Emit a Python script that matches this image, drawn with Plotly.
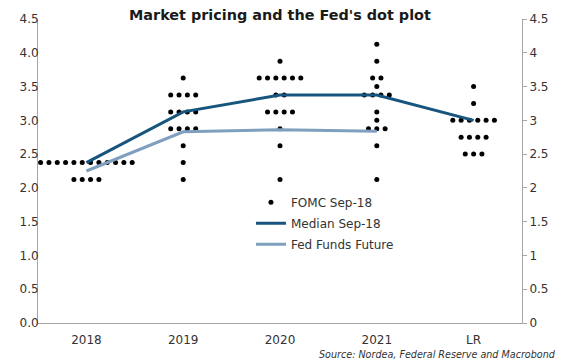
import plotly.graph_objects as go

categories = ["2018", "2019", "2020", "2021", "LR"]

# FOMC Sep-18 dot plot: rate levels and number of dots at each level
levels_2018 = [2.375, 2.125]
counts_2018 = [12, 4]
levels_2019 = [3.625, 3.375, 3.125, 2.875, 2.625, 2.375, 2.125]
counts_2019 = [1, 4, 4, 4, 1, 1, 1]
levels_2020 = [3.875, 3.625, 3.375, 3.125, 2.875, 2.625, 2.125]
counts_2020 = [1, 6, 2, 4, 1, 1, 1]
levels_2021 = [4.125, 3.875, 3.625, 3.5, 3.375, 3.125, 3.0, 2.875, 2.625, 2.125]
counts_2021 = [1, 1, 2, 1, 4, 1, 1, 3, 1, 1]
levels_lr = [3.5, 3.25, 3.0, 2.75, 2.5]
counts_lr = [1, 1, 6, 4, 3]

median_sep18 = [2.375, 3.125, 3.375, 3.375, 3.0]
fed_funds_future = [2.25, 2.83, 2.86, 2.84, None]

dot_sets = [(levels_2018, counts_2018), (levels_2019, counts_2019),
            (levels_2020, counts_2020), (levels_2021, counts_2021),
            (levels_lr, counts_lr)]

step = 0.086
dx, dy = [], []
for ci, (levels, counts) in enumerate(dot_sets):
    for lv, n in zip(levels, counts):
        for i in range(n):
            dx.append(ci + (i - (n - 1) / 2) * step)
            dy.append(lv)

FONT = "DejaVu Sans"
AX = "#a6a6a6"
TXT = "#333333"

fig = go.Figure()
fig.add_trace(go.Scatter(x=dx, y=dy, mode="markers", name="FOMC Sep-18",
                         marker=dict(color="black", size=5),
                         legendgroup="a"))
fig.add_trace(go.Scatter(x=list(range(len(categories))), y=median_sep18,
                         mode="lines", name="Median Sep-18",
                         line=dict(color="#17557f", width=3),
                         legendgroup="b"))
fig.add_trace(go.Scatter(x=list(range(len(categories))), y=fed_funds_future,
                         mode="lines", name="Fed Funds Future",
                         line=dict(color="#7f9fbf", width=3),
                         legendgroup="c"))
fig.add_trace(go.Scatter(x=[None], y=[None], yaxis="y2", showlegend=False,
                         hoverinfo="skip"))

fig.update_layout(
    width=570, height=364,
    margin=dict(l=38, r=48, t=14, b=41),
    paper_bgcolor="white", plot_bgcolor="white",
    font=dict(family=FONT, size=12, color=TXT),
    showlegend=True,
    legend=dict(x=0.44, y=0.445, xanchor="left", yanchor="top",
                bgcolor="rgba(255,255,255,0)", font=dict(size=12, color=TXT),
                tracegroupgap=2),
    xaxis=dict(range=[-0.5, 4.5], tickvals=list(range(len(categories))),
               ticktext=categories, showline=True, linecolor=AX, linewidth=1,
               showgrid=False, zeroline=False, ticks="", ticklabelstandoff=6),
    yaxis=dict(range=[0, 4.5], dtick=0.5, tickformat=".1f", showline=True,
               linecolor=AX, linewidth=1, showgrid=False, zeroline=False,
               ticks="", ticklabelstandoff=-4),
    yaxis2=dict(range=[0, 4.5], dtick=0.5, overlaying="y", side="right",
                showline=True, linecolor=AX, linewidth=1, showgrid=False,
                zeroline=False, ticks="outside", ticklen=4, tickcolor=AX),
    annotations=[
        dict(text="<b>Market pricing and the Fed's dot plot</b>", xref="paper",
             yref="paper", x=0.5, y=1.013, xanchor="center", yanchor="middle",
             showarrow=False, font=dict(family=FONT, size=14.4, color="#1a1a1a")),
        dict(text="<i>Source: Nordea, Federal Reserve and Macrobond</i>",
             xref="paper", yref="paper", x=(558 - 38) / 484, y=-0.08,
             xanchor="right", yanchor="top", showarrow=False,
             font=dict(family=FONT, size=9.6, color=TXT)),
    ],
)

fig.write_html("out.html", config={"displayModeBar": False},
               post_script="document.body.style.margin='0';"
                           "document.body.style.overflow='hidden';")
